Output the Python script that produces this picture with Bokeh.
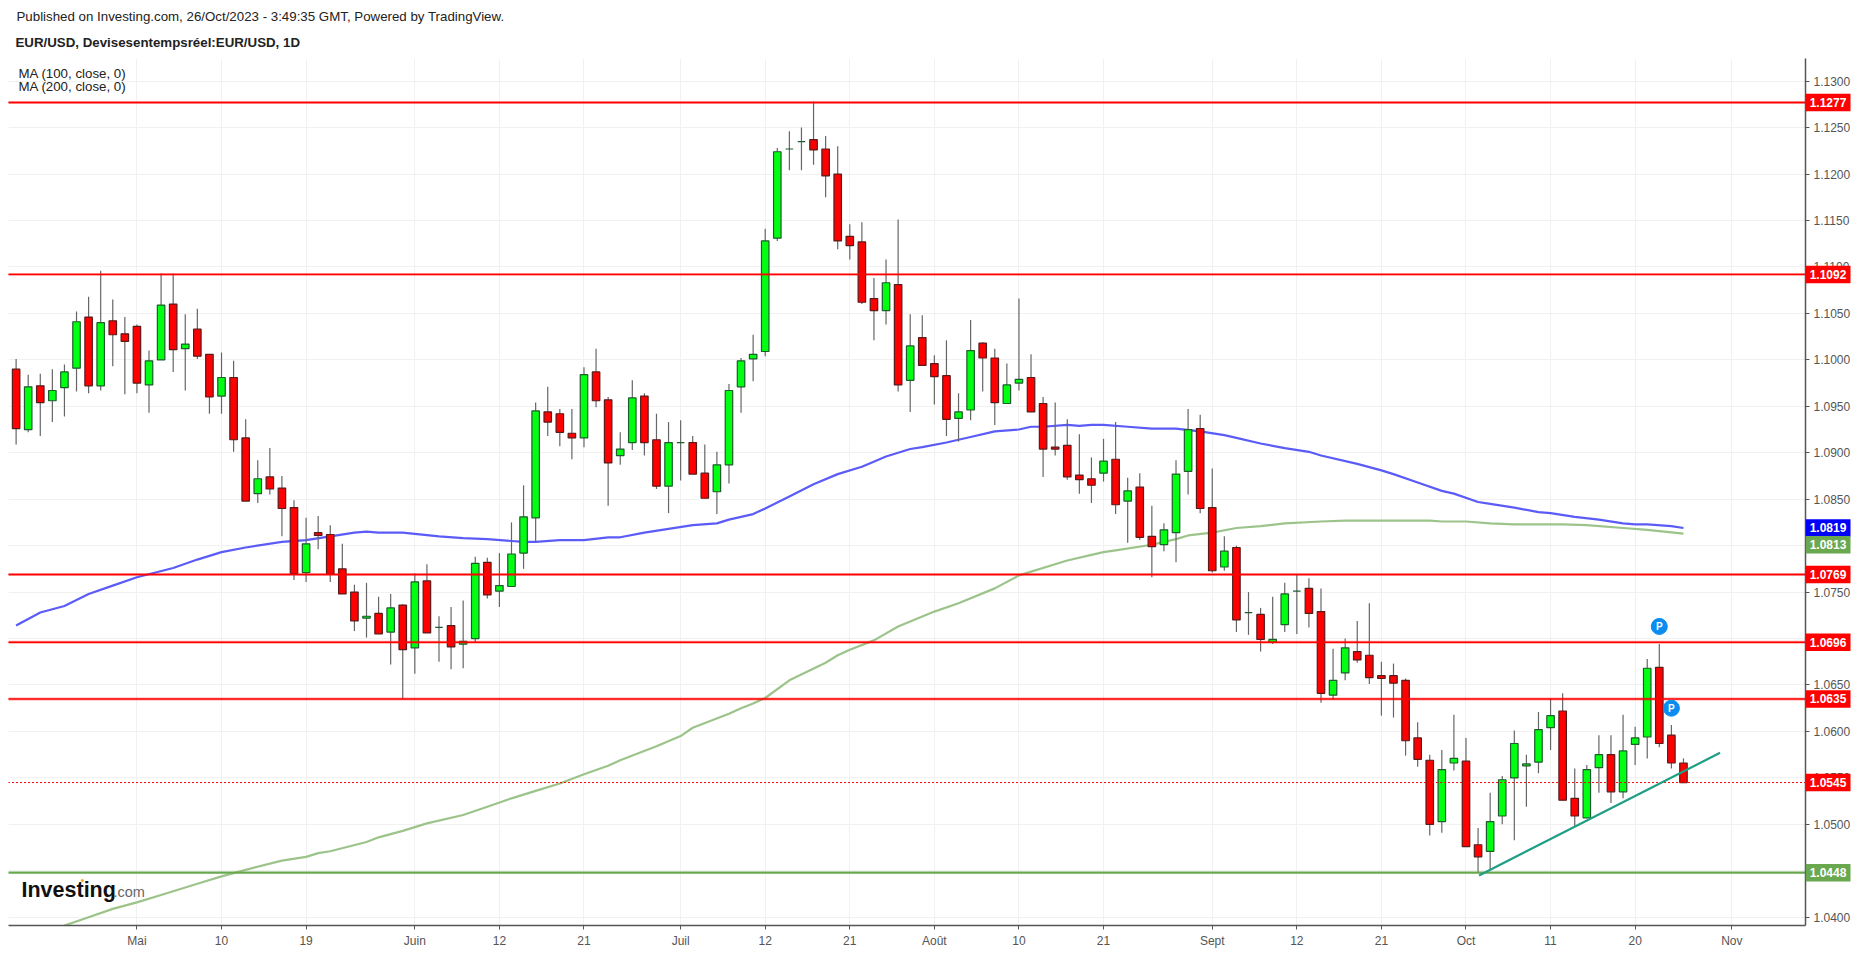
from bokeh.plotting import figure
from bokeh.layouts import row
from bokeh.models import Label, Range1d, FixedTicker, PrintfTickFormatter, ColumnDataSource, Title
from bokeh.core.properties import value
from bokeh.embed import file_html
from bokeh.resources import INLINE

opens = [1.0990,1.0925,1.0972,1.0956,1.0970,1.0991,1.1046,1.0972,1.1042,1.1028,1.1036,1.0973,1.1000,1.1060,1.1012,1.1033,1.1006,1.0961,1.0981,1.0916,1.0856,1.0874,1.0862,
 1.0841,1.0771,1.0814,1.0812,1.0775,1.0750,1.0722,1.0727,1.0707,1.0736,1.0690,1.0762,1.0712,1.0714,1.0694,1.0700,1.0782,1.0751,1.0756,1.0792,1.0830,
 1.0944,1.0942,1.0921,1.0916,1.0987,1.0957,1.0897,1.0911,1.0961,1.0914,1.0864,1.0911,1.0911,1.0878,1.0858,1.0887,1.0971,1.1001,1.1009,1.1131,1.1227,1.1235,1.1237,1.1227,1.1200,1.1133,1.1127,1.1066,1.1053,1.1081,1.0978,1.1024,1.0996,1.0983,1.0937,1.0946,1.1018,1.1002,1.0953,1.0975,1.0981,1.0953,1.0906,1.0908,1.0876,1.0872,1.0878,1.0893,1.0848,1.0863,
 1.0810,1.0801,1.0814,1.0880,1.0926,1.0841,1.0777,1.0798,1.0728,
 1.0726,1.0696,1.0715,1.0751,1.0754,1.0729,1.0639,1.0663,1.0686,1.0682,1.0660,1.0660,1.0655,1.0593,1.0569,1.0503,1.0566,1.0568,1.0478,1.0471,1.0509,1.0550,1.0563,1.0567,1.0604,1.0622,1.0528,1.0507,1.0561,1.0575,1.0535,1.0586,1.0594,1.0669,1.0596,1.0566]
highs = [1.1001,1.0984,1.0985,1.0990,1.0995,1.1052,1.1068,1.1096,1.1065,1.1046,1.1038,1.1010,1.1093,1.1093,1.1049,1.1055,1.1006,1.1008,1.0999,1.0936,1.0892,1.0905,1.0875,
 1.0849,1.0830,1.0832,1.0822,1.0802,1.0758,1.0760,1.0745,1.0748,1.0737,1.0770,1.0780,1.0724,1.0734,1.0741,1.0788,1.0787,1.0792,1.0825,1.0865,1.0954,
 1.0971,1.0947,1.0947,1.0992,1.1012,1.0960,1.0922,1.0978,1.0964,1.0942,1.0933,1.0935,1.0918,1.0909,1.0901,1.0974,1.1002,1.1027,1.1141,1.1228,1.1246,1.1250,1.1278,1.1241,1.1230,1.1146,1.1148,1.1088,1.1108,1.1151,1.1049,1.1048,1.1005,1.1021,1.0964,1.1043,1.1019,1.1012,1.0996,1.1066,1.1006,1.0960,1.0954,1.0936,1.0920,1.0895,1.0915,1.0933,1.0873,1.0878,
 1.0843,1.0824,1.0892,1.0947,1.0941,1.0883,1.0810,1.0800,1.0750,
 1.0733,1.0745,1.0760,1.0769,1.0765,1.0754,1.0689,1.0700,1.0719,1.0738,1.0675,1.0673,1.0657,1.0610,1.0575,1.0580,1.0618,1.0593,1.0496,1.0534,1.0552,1.0601,1.0575,1.0621,1.0636,1.0641,1.0560,1.0564,1.0596,1.0596,1.0618,1.0605,1.0678,1.0694,1.0607,1.0571]
lows = [1.0909,1.0922,1.0918,1.0933,1.0939,1.0966,1.0964,1.0967,1.0993,1.0963,1.0964,1.0943,1.1000,1.0987,1.0967,1.1001,1.0942,1.0942,1.0901,1.0848,1.0846,1.0855,1.0810,
 1.0763,1.0761,1.0796,1.0761,1.0748,1.0708,1.0701,1.0705,1.0672,1.0635,1.0662,1.0706,1.0675,1.0667,1.0668,1.0696,1.0743,1.0734,1.0756,1.0775,1.0804,
 1.0918,1.0907,1.0893,1.0906,1.0949,1.0843,1.0887,1.0903,1.0897,1.0861,1.0835,1.0870,1.0877,1.0851,1.0834,1.0867,1.0943,1.0977,1.1004,1.1128,1.1204,1.1204,1.1210,1.1175,1.1119,1.1108,1.1060,1.1021,1.1038,1.0966,1.0944,1.0994,1.0952,1.0918,1.0912,1.0935,1.0966,1.0930,1.0953,1.0967,1.0944,1.0874,1.0897,1.0871,1.0856,1.0846,1.0869,1.0834,1.0803,1.0806,
 1.0766,1.0794,1.0782,1.0855,1.0835,1.0771,1.0773,1.0707,1.0704,
 1.0686,1.0694,1.0707,1.0705,1.0712,1.0631,1.0634,1.0655,1.0674,1.0651,1.0617,1.0615,1.0574,1.0562,1.0488,1.0491,1.0558,1.0476,1.0448,1.0451,1.0500,1.0483,1.0519,1.0555,1.0580,1.0526,1.0498,1.0507,1.0534,1.0523,1.0528,1.0564,1.0571,1.0583,1.0560,1.0545]
closes = [1.0926,1.0971,1.0954,1.0967,1.0987,1.1041,1.0972,1.1040,1.1027,1.1020,1.0975,1.0999,1.1059,1.1011,1.1017,1.1004,1.0960,1.0981,1.0914,1.0848,1.0872,1.0861,1.0840,
 1.0770,1.0802,1.0811,1.0769,1.0748,1.0719,1.0724,1.0705,1.0733,1.0688,1.0761,1.0706,1.0712,1.0691,1.0697,1.0781,1.0747,1.0757,1.0791,1.0831,1.0945,
 1.0933,1.0922,1.0916,1.0984,1.0956,1.0889,1.0904,1.0959,1.0911,1.0864,1.0911,1.0911,1.0877,1.0851,1.0887,1.0967,1.0999,1.1006,1.1128,1.1224,1.1227,1.1235,1.1226,1.1198,1.1128,1.1123,1.1062,1.1053,1.1083,1.0973,1.1015,1.0994,1.0982,1.0936,1.0944,1.1010,1.1002,1.0954,1.0973,1.0979,1.0944,1.0904,1.0904,1.0874,1.0871,1.0865,1.0891,1.0844,1.0859,1.0809,
 1.0799,1.0817,1.0877,1.0925,1.0840,1.0773,1.0794,1.0720,1.0728,
 1.0699,1.0699,1.0748,1.0751,1.0727,1.0641,1.0655,1.0690,1.0677,1.0658,1.0657,1.0652,1.0590,1.0570,1.0500,1.0559,1.0571,1.0476,1.0465,1.0503,1.0548,1.0587,1.0565,1.0602,1.0617,1.0526,1.0509,1.0559,1.0575,1.0535,1.0579,1.0593,1.0668,1.0587,1.0566,1.0545]

ma100_x = [0,2,4,6,8,10,13,15,17,19,22,24,26,28,29,30,32,35,37,39,41,42,43,45,47,49,50,52,54,56,58,59,61,62,64,66,68,70,72,74,75,77,79,81,83,84,85,87,88,89,90,92,94,96,98,100,101,103,105,107,108,111,113,114,116,118,119,121,122,124,126,127,129,131,133,134,135,137,138]
ma100_y = [1.0714,1.0728,1.0735,1.0748,1.0757,1.0766,1.0776,1.0785,1.0793,1.0798,1.0804,1.0806,1.0810,1.0814,1.0815,1.0814,1.0814,1.0810,1.0808,1.0807,1.0805,1.0804,1.0804,1.0806,1.0806,1.0809,1.0809,1.0814,1.0818,1.0822,1.0824,1.0828,1.0834,1.0840,1.0853,1.0866,1.0877,1.0885,1.0896,1.0904,1.0906,1.0911,1.0917,1.0923,1.0925,1.0928,1.0928,1.0930,1.0929,1.0930,1.0930,1.0928,1.0926,1.0926,1.0923,1.0919,1.0916,1.0910,1.0905,1.0901,1.0897,1.0888,1.0881,1.0877,1.0868,1.0859,1.0856,1.0847,1.0845,1.0841,1.0836,1.0835,1.0831,1.0828,1.0824,1.0823,1.0823,1.0821,1.0819]
ma200_x = [4,6,8,10,12,13,15,17,19,22,24,25,26,29,30,32,33,34,37,39,41,43,45,47,49,50,53,55,56,59,60,61,62,64,67,68,69,71,73,76,78,81,83,87,89,90,91,94,96,97,99,101,103,105,108,110,117,118,120,122,124,128,130,133,135,138]
ma200_y = [1.0391,1.0400,1.0409,1.0416,1.0424,1.0428,1.0436,1.0444,1.0451,1.0461,1.0465,1.0469,1.0471,1.0481,1.0486,1.0493,1.0497,1.0501,1.0510,1.0519,1.0528,1.0536,1.0544,1.0554,1.0563,1.0569,1.0584,1.0595,1.0604,1.0619,1.0625,1.0630,1.0636,1.0655,1.0674,1.0682,1.0688,1.0698,1.0713,1.0729,1.0738,1.0754,1.0768,1.0784,1.0790,1.0793,1.0795,1.0801,1.0807,1.0811,1.0814,1.0819,1.0821,1.0824,1.0826,1.0827,1.0827,1.0826,1.0826,1.0824,1.0823,1.0823,1.0822,1.0819,1.0817,1.0813]

red_levels = [1.1277,1.1092,1.0769,1.0696,1.0635]
green_level = 1.0448
last_price = 1.0545
trend_x = [121.08,141.03]
trend_y = [1.0445,1.0577]
pivot_x = [136,137]
pivot_y = [1.0713,1.0625]
pivot_text = ["P","P"]

x_ticks = [10,17,24,33,40,47,55,62,69,76,83,90,99,106,113,120,127,134,142]
x_labels = ["Mai","10","19","Juin","12","21","Juil","12","21","Août","10","21","Sept","12","21","Oct","11","20","Nov"]
y_ticks = [1.04,1.045,1.05,1.055,1.06,1.065,1.07,1.075,1.08,1.085,1.09,1.095,1.10,1.105,1.11,1.115,1.12,1.125,1.13]
tag_text = ["1.1277","1.1092","1.0819","1.0813","1.0769","1.0696","1.0635","1.0545","1.0448"]
tag_price = [1.1277,1.1092,1.0819,1.0801,1.0769,1.0696,1.0635,1.0545,1.0448]
tag_color = ["#ff0000","#ff0000","#0000ff","#6aa84f","#ff0000","#ff0000","#ff0000","#ff0000","#6aa84f"]

FONT = "Liberation Sans"
W, H = 1857, 954
TOP, BOTTOM, LEFT, RIGHT = 58, 29, 8, 52
p = figure(width=W, height=H, x_range=Range1d(-0.63,148.1), y_range=Range1d(1.03911,1.13244),
           y_axis_location="right", output_backend="svg", toolbar_location=None,
           min_border_left=LEFT, min_border_top=TOP, min_border_right=RIGHT, min_border_bottom=BOTTOM)
p.outline_line_color = None
p.background_fill_color = "white"
p.xaxis.ticker = FixedTicker(ticks=x_ticks)
p.xaxis.major_label_overrides = dict(zip(x_ticks, x_labels))
p.yaxis.ticker = FixedTicker(ticks=y_ticks)
p.yaxis.formatter = PrintfTickFormatter(format="%.4f")
for ax in (p.xaxis[0], p.yaxis[0]):
    ax.axis_line_color = "#555555"
    ax.axis_line_width = 1.5
    ax.major_tick_line_color = "#555555"
    ax.major_tick_out = 4
    ax.major_tick_in = 0
    ax.minor_tick_line_color = None
    ax.major_label_text_font = FONT
    ax.major_label_text_font_size = "12px"
    ax.major_label_text_color = "#555555"
    ax.major_label_standoff = 4
p.xgrid.grid_line_color = "#f1f1f1"
p.ygrid.grid_line_color = "#f1f1f1"

p.add_layout(Title(text="EUR/USD, Devisesentempsréel:EUR/USD, 1D", align="left", offset=7, standoff=18,
                   text_font=FONT, text_font_size="13.3px", text_font_style="bold", text_color="#222222"), "above")
p.add_layout(Title(text="Published on Investing.com, 26/Oct/2023 - 3:49:35 GMT, Powered by TradingView.", align="left",
                   offset=8, standoff=0, text_font=FONT, text_font_size="13.3px", text_font_style="normal",
                   text_color="#222222"), "above")

p.line(ma100_x, ma100_y, line_color="#5b5bf8", line_width=2.2)
p.line(ma200_x, ma200_y, line_color="#9cc48a", line_width=2.2)

idx = list(range(len(closes)))
up = [c >= o for o, c in zip(opens, closes)]
src = ColumnDataSource(dict(
    x=idx, o=opens, h=highs, l=lows, c=closes,
    top=[max(a, b) for a, b in zip(opens, closes)],
    bottom=[min(a, b) for a, b in zip(opens, closes)],
    fill=["#00ff11" if u else "#ff0000" for u in up],
    edge=["#1d5c2c" if u else "#5a1a1a" for u in up],
))
p.segment("x", "h", "x", "l", source=src, line_color="#666666", line_width=1.2)
p.vbar("x", 0.62, "top", "bottom", source=src, fill_color="fill", line_color="edge", line_width=1.2)

for lv in red_levels:
    p.line([-1, 149], [lv, lv], line_color="#ff0000", line_width=3, line_alpha=0.35)
    p.line([-1, 149], [lv, lv], line_color="#ff0000", line_width=1.4)
p.line([-1, 149], [green_level, green_level], line_color="#6aa84f", line_width=2.4)
p.line([-1, 149], [last_price, last_price], line_color="#ff0000", line_width=1, line_dash="2 2")
p.line(trend_x, trend_y, line_color="#1f9e85", line_width=2.2)

p.scatter(pivot_x, pivot_y, size=16, fill_color="#0a8cf0", line_color="#0a8cf0")
p.text(pivot_x, pivot_y, text=pivot_text, text_color="white", text_font=value(FONT), text_font_style="bold",
       text_font_size="10px", text_align="center", text_baseline="middle")

def page_label(text, px, py, size, style="normal", color="#222222"):
    p.add_layout(Label(x=px - LEFT, y=H - BOTTOM - py, x_units="screen", y_units="screen", text=text,
                       text_font=FONT, text_font_size=size, text_font_style=style, text_color=color,
                       text_baseline="middle", text_align="left"))

page_label("MA (100, close, 0)", 18, 73, "13.3px")
page_label("MA (200, close, 0)", 18, 86, "13.3px")
page_label("Investing", 21, 889, "21.5px", "bold", "#111111")
page_label(".com", 113, 891, "14.5px", "normal", "#666666")
page_label("•", 80, 879, "11px", "normal", "#f5a623")

# transparent strip on top of the price axis, sharing its y scale, for the price tags
q = figure(width=RIGHT, height=H, x_range=Range1d(0, RIGHT), y_range=p.y_range, x_axis_location=None, y_axis_location=None,
           output_backend="svg", toolbar_location=None, min_border_left=0, min_border_right=0,
           min_border_top=TOP, min_border_bottom=BOTTOM, background_fill_color=None, border_fill_color=None,
           outline_line_color=None)
q.grid.visible = False
q.margin = (0, 0, 0, -RIGHT)
tags = ColumnDataSource(dict(x=[22.5]*len(tag_price), y=tag_price, t=tag_text, c=tag_color))
q.rect("x", "y", width=45, height=17.5, height_units="screen", source=tags, fill_color="c", line_color=None)
q.text("x", "y", text="t", source=tags, text_color="white", text_font=value(FONT), text_font_style="bold",
       text_font_size="12px", text_align="center", text_baseline="middle")

open("out.html", "w").write(file_html(row(p, q), INLINE))
